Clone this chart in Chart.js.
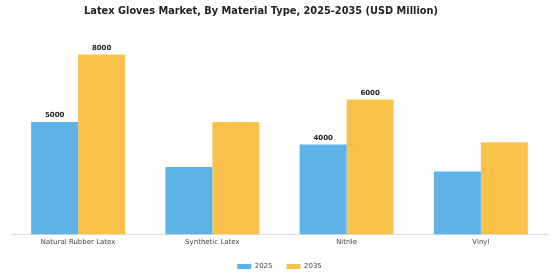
<!DOCTYPE html>
<html>
<head>
<meta charset="utf-8">
<script src="https://cdn.jsdelivr.net/npm/chart.js@4.4.1/dist/chart.umd.min.js"></script>
<style>
  html, body { margin: 0; padding: 0; background: #ffffff; }
  #wrap { width: 560px; height: 280px; position: relative; }
</style>
</head>
<body>
<div id="wrap"><canvas id="c" width="560" height="280"></canvas></div>
<script>
const titleText = "Latex Gloves Market, By Material Type, 2025-2035 (USD Million)";
const categories = ["Natural Rubber Latex", "Synthetic Latex", "Nitrile", "Vinyl"];
const seriesNames = ["2025", "2035"];
const values2025 = [5000, 3000, 4000, 2800];
const values2035 = [8000, 5000, 6000, 4100];
const labels2025 = ["5000", "", "4000", ""];
const labels2035 = ["8000", "", "6000", ""];
const colors = ["#5DB3E5", "#F9C34B"];

const valueLabelPlugin = {
  id: "valueLabels",
  afterDatasetsDraw(chart) {
    const ctx = chart.ctx;
    const lbls = [labels2025, labels2035];
    ctx.save();
    ctx.font = "bold 7px 'DejaVu Sans'";
    ctx.fillStyle = "#222222";
    ctx.textAlign = "center";
    ctx.textBaseline = "bottom";
    chart.data.datasets.forEach((ds, di) => {
      const meta = chart.getDatasetMeta(di);
      meta.data.forEach((bar, i) => {
        const t = lbls[di][i];
        if (t) ctx.fillText(t, bar.x, bar.y - 3);
      });
    });
    ctx.restore();
  }
};

const titlePlugin = {
  id: "customTitle",
  afterDraw(chart) {
    const ctx = chart.ctx;
    ctx.save();
    ctx.font = "bold 9.8px 'DejaVu Sans'";
    ctx.fillStyle = "#222222";
    ctx.textAlign = "center";
    ctx.textBaseline = "middle";
    ctx.fillText(titleText, 261, 11);
    ctx.restore();
  }
};

new Chart(document.getElementById("c"), {
  type: "bar",
  data: {
    labels: categories,
    datasets: [
      { label: seriesNames[0], data: values2025, backgroundColor: colors[0], borderWidth: 0 },
      { label: seriesNames[1], data: values2035, backgroundColor: colors[1], borderWidth: 0 }
    ]
  },
  options: {
    responsive: false,
    animation: false,
    devicePixelRatio: 1,
    layout: { padding: { left: 11, right: 12, top: 32, bottom: 0 } },
    datasets: { bar: { categoryPercentage: 0.7, barPercentage: 1.0 } },
    scales: {
      x: {
        grid: { display: false, drawTicks: false, tickLength: 0 },
        border: { display: true, color: "#dddddd", width: 1 },
        ticks: { color: "#444444", font: { family: "'DejaVu Sans'", size: 7 }, padding: 3 }
      },
      y: {
        display: false,
        min: 0,
        max: 9000
      }
    },
    plugins: {
      legend: {
        position: "bottom",
        labels: {
          boxWidth: 14,
          boxHeight: 5,
          padding: 14,
          color: "#444444",
          font: { family: "'DejaVu Sans'", size: 7 }
        }
      },
      title: { display: false },
      tooltip: { enabled: false }
    }
  },
  plugins: [valueLabelPlugin, titlePlugin]
});
</script>
</body>
</html>
